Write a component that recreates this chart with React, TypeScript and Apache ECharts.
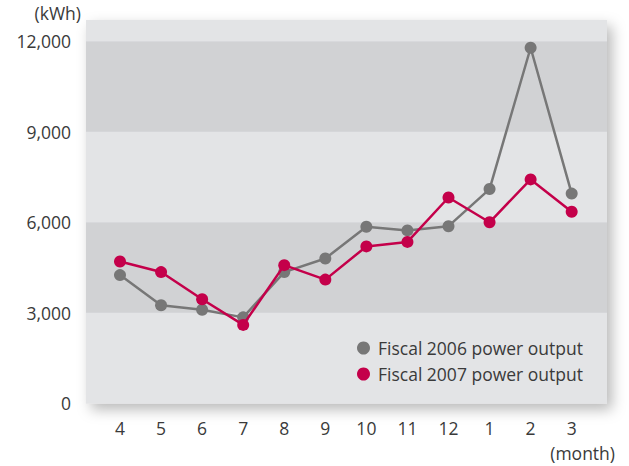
import React, { useEffect, useRef } from "react";
import * as echarts from "echarts";

const months = ["4", "5", "6", "7", "8", "9", "10", "11", "12", "1", "2", "3"];
const fy2006 = [4250, 3250, 3100, 2850, 4350, 4800, 5850, 5730, 5870, 7100, 11780, 6950];
const fy2007 = [4700, 4350, 3450, 2600, 4580, 4100, 5200, 5350, 6820, 6000, 7420, 6350];
const yTicks = [0, 3000, 6000, 9000, 12000];
const seriesNames = ["Fiscal 2006 power output", "Fiscal 2007 power output"];

const FONT = "'Open Sans', 'Noto Sans', sans-serif";
const FS = 17.5;

export default function App() {
  const ref = useRef<HTMLDivElement>(null);
  useEffect(() => {
    if (!ref.current) return;
    const chart = echarts.init(ref.current, null, { renderer: "svg" });
    chart.setOption({
      animation: false,
      backgroundColor: "#ffffff",
      textStyle: { fontFamily: FONT },
      grid: {
        left: 86,
        right: 22,
        top: 20,
        bottom: 62.6,
        show: true,
        backgroundColor: "#e3e4e6",
        borderWidth: 0,
        shadowBlur: 14,
        shadowColor: "rgba(0,0,0,0.28)",
        shadowOffsetX: 5,
        shadowOffsetY: 6,
      },
      legend: {
        orient: "vertical",
        left: 352,
        top: 334,
        itemWidth: 13,
        itemHeight: 13,
        itemGap: 8,
        icon: "circle",
        textStyle: { fontSize: FS, color: "#3a3a3a", fontFamily: FONT, padding: [0, 0, 0, 3] },
        data: seriesNames,
      },
      xAxis: {
        type: "value",
        min: -0.828,
        max: 11.86,
        axisLine: { show: false },
        axisTick: { show: false },
        splitLine: { show: false },
        axisLabel: {
          customValues: months.map((_, i) => i),
          formatter: (v: number) => months[Math.round(v)] ?? "",
          fontSize: FS,
          color: "#3a3a3a",
          margin: 16,
          fontFamily: FONT,
        },
      },
      yAxis: {
        type: "value",
        min: 0,
        max: 12700,
        interval: 3000,
        axisLine: { show: false },
        axisTick: { show: false },
        splitLine: { show: false },
        splitArea: { show: true, areaStyle: { color: ["#e3e4e6", "#d1d2d4"] } },
        axisLabel: {
          customValues: yTicks,
          formatter: (v: number) => (yTicks.includes(v) ? v.toLocaleString("en-US") : ""),
          fontSize: FS,
          color: "#3a3a3a",
          margin: 15,
          fontFamily: FONT,
        },
      },
      graphic: [
        {
          type: "text",
          right: 629 - 81,
          top: 4,
          style: { text: "(kWh)", fontSize: FS, fill: "#3a3a3a", fontFamily: FONT },
        },
        {
          type: "text",
          right: 14,
          top: 444,
          style: { text: "(month)", fontSize: FS, fill: "#3a3a3a", fontFamily: FONT },
        },
      ],
      series: [
        {
          name: seriesNames[0],
          type: "line",
          data: fy2006.map((v, i) => [i, v]),
          symbol: "circle",
          symbolSize: 12,
          lineStyle: { color: "#777777", width: 2.5 },
          itemStyle: { color: "#777777" },
          z: 2,
        },
        {
          name: seriesNames[1],
          type: "line",
          data: fy2007.map((v, i) => [i, v]),
          symbol: "circle",
          symbolSize: 12,
          lineStyle: { color: "#c4004a", width: 2.5 },
          itemStyle: { color: "#c4004a" },
          z: 3,
        },
      ],
    });
    return () => chart.dispose();
  }, []);
  return (
    <div
      ref={ref}
      style={{ position: "fixed", left: 0, top: 0, width: 629, height: 466 }}
    />
  );
}
